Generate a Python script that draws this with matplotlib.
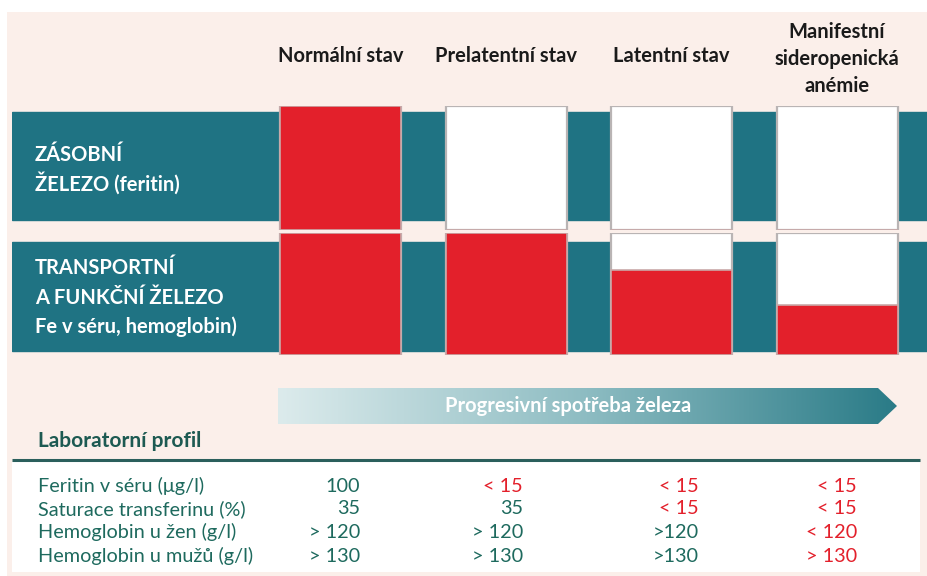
import numpy as np
import matplotlib
matplotlib.use("Agg")
import matplotlib.pyplot as plt
from matplotlib.patches import Polygon, Rectangle
from matplotlib.colors import LinearSegmentedColormap
import matplotlib.transforms as mtransforms

# ---------------- data ----------------
categories = ["Normální stav", "Prelatentní stav", "Latentní stav",
              "Manifestní\nsideropenická\nanémie"]
storage_iron = [1.0, 0.0, 0.0, 0.0]          # fill level of the storage-iron boxes
transport_iron = [1.0, 1.0, 0.70, 0.41]      # fill level of the transport-iron boxes
row_labels = [["ZÁSOBNÍ", "ŽELEZO (feritin)"],
              ["TRANSPORTNÍ", "A FUNKČNÍ ŽELEZO", "Fe v séru, hemoglobin)"]]
arrow_label = "Progresivní spotřeba železa"
lab_title = "Laboratorní profil"
lab_labels = ["Feritin v séru (μg/l)", "Saturace transferinu (%)",
              "Hemoglobin u žen (g/l)", "Hemoglobin u mužů (g/l)"]
lab_values = [["100", "< 15", "< 15", "< 15"],
              ["35", "35", "< 15", "< 15"],
              ["> 120", "> 120", ">120", "< 120"],
              ["> 130", "> 130", ">130", "> 130"]]
lab_abnormal = [[False, True, True, True],
                [False, False, True, True],
                [False, False, False, True],
                [False, False, False, True]]

# ---------------- style ----------------
BG = "#FBEFEA"
TEAL = "#1F7383"
RED = "#E3202B"
TXT_TEAL = "#1E6A5E"
DARK = "#1A1A1A"
plt.rcParams['font.family'] = ['Lato', 'DejaVu Sans']

W, H = 927, 576
fig = plt.figure(figsize=(W / 100, H / 100), dpi=100)
fig.patch.set_facecolor("white")

# background axes in pixel coordinates
bg = fig.add_axes([0, 0, 1, 1], zorder=0)
bg.set_xlim(0, W)
bg.set_ylim(H, 0)
bg.axis("off")
bg.add_patch(Rectangle((7, 12), W - 7, H - 12, facecolor=BG, edgecolor="none"))
bg.add_patch(Rectangle((12, 462), 908, 110, facecolor="white", edgecolor="none"))
bg.plot([12, 920], [460, 460], color="#2B5F5C", lw=2.2, solid_capstyle="butt")


def px_axes(x0, y0, x1, y1, **kw):
    return fig.add_axes([x0 / W, 1 - y1 / H, (x1 - x0) / W, (y1 - y0) / H], **kw)


n = len(categories)
xpos = np.arange(n)
col_c0, col_step = 340.5, 165.5
bar_w = 121 / col_step


def row_axes(y0, y1, band0, band1, levels):
    ax = px_axes(12, y0, W, y1, zorder=1)
    ax.set_xlim((12 - col_c0) / col_step, (W - col_c0) / col_step)
    ax.set_ylim(0, 1)
    ax.patch.set_alpha(0)
    ax.axis("off")
    h = y1 - y0
    ax.axhspan((y1 - band1) / h, (y1 - band0) / h, color=TEAL, zorder=0)
    ax.bar(xpos, [1.0] * n, width=bar_w, bottom=0, align="center",
           color="white", edgecolor="#B9B4B4", linewidth=1.6, zorder=2)
    ax.bar(xpos, levels, width=bar_w, bottom=0, align="center",
           color=RED, edgecolor="#C9A9A9", linewidth=1.2, zorder=3)
    return ax


ax1 = row_axes(106, 230, 112, 220, storage_iron)
ax2 = row_axes(233, 355, 242, 351, transport_iron)

# column headers (x tied to category positions)
trans = mtransforms.blended_transform_factory(ax1.transData, bg.transData)
HFS = 14.5
for i, c in enumerate(categories):
    lines = c.split("\n")
    if len(lines) == 1:
        bg.text(xpos[i], 56, c, transform=trans, ha="center", va="center",
                fontsize=HFS, fontweight="bold", color=DARK)
    else:
        for j, ln in enumerate(lines):
            bg.text(xpos[i], 32 + 27 * j, ln, transform=trans, ha="center",
                    va="center", fontsize=HFS, fontweight="bold", color=DARK)

# row labels (drawn on the row axes so they sit above the teal band)
RFS = 14.5
for j, ln in enumerate(row_labels[0]):
    ax1.text(35, 155 + 28 * j, ln, transform=bg.transData, ha="left",
             va="center", fontsize=RFS, fontweight="bold", color="white",
             zorder=5)
for j, ln in enumerate(row_labels[1]):
    ax2.text(35, 268 + 29.5 * j, ln, transform=bg.transData, ha="left",
             va="center", fontsize=RFS, fontweight="bold", color="white",
             zorder=5)

# gradient arrow
arrow = Polygon([(278, 388), (878, 388), (897, 406), (878, 424), (278, 424)],
                closed=True, facecolor="none", edgecolor="none")
bg.add_patch(arrow)
grad = np.linspace(0, 1, 256).reshape(1, -1)
cmap = LinearSegmentedColormap.from_list("arr", ["#DCEBEC", "#8DBCC2", "#2A7B87"])
im = bg.imshow(grad, extent=(278, 897, 424, 388), cmap=cmap, aspect="auto",
               zorder=1, interpolation="bicubic")
im.set_clip_path(arrow)
bg.set_xlim(0, W)
bg.set_ylim(H, 0)
bg.text(568, 406, arrow_label, ha="center", va="center", fontsize=14.5,
        fontweight="bold", color="white", zorder=2)

# laboratory profile
bg.text(38, 441, lab_title, ha="left", va="center", fontsize=15,
        fontweight="bold", color="#1D5A52")
val_right = [360, 523, 699, 857]
row_y = [486, 509, 532, 556]
TFS = 14.3
for r, lab in enumerate(lab_labels):
    bg.text(38, row_y[r], lab, ha="left", va="center", fontsize=TFS,
            color=TXT_TEAL)
    for c in range(n):
        bg.text(val_right[c], row_y[r], lab_values[r][c], ha="right",
                va="center", fontsize=TFS,
                color=RED if lab_abnormal[r][c] else TXT_TEAL)

fig.savefig("out.png", dpi=100, facecolor=fig.get_facecolor())
